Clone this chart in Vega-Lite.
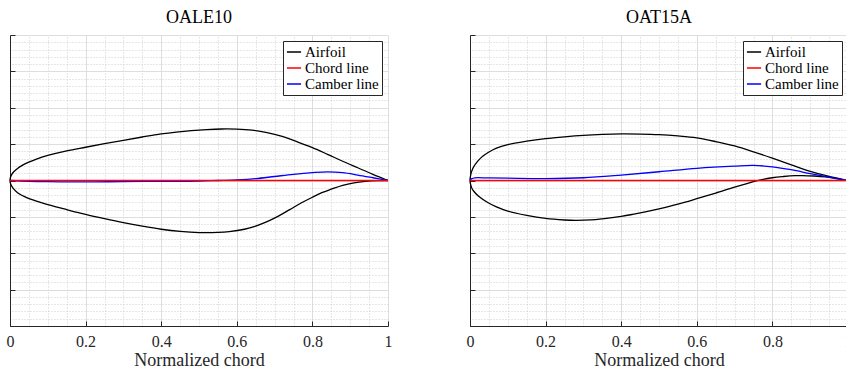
{
  "$schema": "https://vega.github.io/schema/vega-lite/v6.json",
  "autosize": {"type": "pad"},
  "padding": {"left": 6, "top": 8, "right": 0, "bottom": 0},
  "background": "white",
  "config": {
    "view": {"stroke": null},
    "font": "Liberation Serif, DejaVu Serif, serif",
    "title": {"font": "Liberation Serif, DejaVu Serif, serif", "fontSize": 18, "fontWeight": "normal", "color": "#000000", "offset": 8},
    "legend": {"labelFont": "Liberation Serif, DejaVu Serif, serif", "labelFontSize": 15, "labelColor": "#000000"}
  },
  "datasets": {
    "oale10": [
      {"s": "Airfoil", "i": 0, "x": 1.0, "y": 0},
      {"s": "Airfoil", "i": 1, "x": 0.96, "y": 0.0085},
      {"s": "Airfoil", "i": 2, "x": 0.92, "y": 0.0175},
      {"s": "Airfoil", "i": 3, "x": 0.88, "y": 0.0265},
      {"s": "Airfoil", "i": 4, "x": 0.84, "y": 0.036},
      {"s": "Airfoil", "i": 5, "x": 0.80, "y": 0.0452},
      {"s": "Airfoil", "i": 6, "x": 0.76, "y": 0.0532},
      {"s": "Airfoil", "i": 7, "x": 0.72, "y": 0.0605},
      {"s": "Airfoil", "i": 8, "x": 0.68, "y": 0.0658},
      {"s": "Airfoil", "i": 9, "x": 0.64, "y": 0.0692},
      {"s": "Airfoil", "i": 10, "x": 0.60, "y": 0.0706},
      {"s": "Airfoil", "i": 11, "x": 0.56, "y": 0.0708},
      {"s": "Airfoil", "i": 12, "x": 0.52, "y": 0.0700},
      {"s": "Airfoil", "i": 13, "x": 0.48, "y": 0.0686},
      {"s": "Airfoil", "i": 14, "x": 0.44, "y": 0.0666},
      {"s": "Airfoil", "i": 15, "x": 0.40, "y": 0.0640},
      {"s": "Airfoil", "i": 16, "x": 0.35, "y": 0.0598},
      {"s": "Airfoil", "i": 17, "x": 0.30, "y": 0.0553},
      {"s": "Airfoil", "i": 18, "x": 0.25, "y": 0.0506},
      {"s": "Airfoil", "i": 19, "x": 0.20, "y": 0.0457},
      {"s": "Airfoil", "i": 20, "x": 0.15, "y": 0.0407},
      {"s": "Airfoil", "i": 21, "x": 0.10, "y": 0.0344},
      {"s": "Airfoil", "i": 22, "x": 0.07, "y": 0.0295},
      {"s": "Airfoil", "i": 23, "x": 0.048, "y": 0.0249},
      {"s": "Airfoil", "i": 24, "x": 0.03, "y": 0.0201},
      {"s": "Airfoil", "i": 25, "x": 0.02, "y": 0.0166},
      {"s": "Airfoil", "i": 26, "x": 0.01, "y": 0.0120},
      {"s": "Airfoil", "i": 27, "x": 0.004, "y": 0.0077},
      {"s": "Airfoil", "i": 28, "x": 0.001, "y": 0.0038},
      {"s": "Airfoil", "i": 29, "x": 0, "y": 0},
      {"s": "Airfoil", "i": 30, "x": 0.001, "y": -0.0037},
      {"s": "Airfoil", "i": 31, "x": 0.004, "y": -0.0072},
      {"s": "Airfoil", "i": 32, "x": 0.009, "y": -0.0112},
      {"s": "Airfoil", "i": 33, "x": 0.02, "y": -0.0168},
      {"s": "Airfoil", "i": 34, "x": 0.04, "y": -0.0226},
      {"s": "Airfoil", "i": 35, "x": 0.07, "y": -0.0285},
      {"s": "Airfoil", "i": 36, "x": 0.10, "y": -0.0331},
      {"s": "Airfoil", "i": 37, "x": 0.15, "y": -0.0400},
      {"s": "Airfoil", "i": 38, "x": 0.20, "y": -0.0466},
      {"s": "Airfoil", "i": 39, "x": 0.25, "y": -0.0525},
      {"s": "Airfoil", "i": 40, "x": 0.30, "y": -0.0580},
      {"s": "Airfoil", "i": 41, "x": 0.35, "y": -0.0628},
      {"s": "Airfoil", "i": 42, "x": 0.40, "y": -0.0670},
      {"s": "Airfoil", "i": 43, "x": 0.45, "y": -0.0700},
      {"s": "Airfoil", "i": 44, "x": 0.50, "y": -0.0716},
      {"s": "Airfoil", "i": 45, "x": 0.55, "y": -0.0714},
      {"s": "Airfoil", "i": 46, "x": 0.58, "y": -0.0703},
      {"s": "Airfoil", "i": 47, "x": 0.62, "y": -0.0670},
      {"s": "Airfoil", "i": 48, "x": 0.65, "y": -0.0626},
      {"s": "Airfoil", "i": 49, "x": 0.68, "y": -0.0565},
      {"s": "Airfoil", "i": 50, "x": 0.71, "y": -0.0489},
      {"s": "Airfoil", "i": 51, "x": 0.74, "y": -0.0400},
      {"s": "Airfoil", "i": 52, "x": 0.77, "y": -0.0310},
      {"s": "Airfoil", "i": 53, "x": 0.80, "y": -0.0230},
      {"s": "Airfoil", "i": 54, "x": 0.825, "y": -0.0168},
      {"s": "Airfoil", "i": 55, "x": 0.85, "y": -0.0120},
      {"s": "Airfoil", "i": 56, "x": 0.88, "y": -0.0066},
      {"s": "Airfoil", "i": 57, "x": 0.91, "y": -0.0032},
      {"s": "Airfoil", "i": 58, "x": 0.94, "y": -0.0013},
      {"s": "Airfoil", "i": 59, "x": 0.97, "y": -0.0003},
      {"s": "Airfoil", "i": 60, "x": 1.0, "y": 0},
      {"s": "Camber line", "i": 0, "x": 0, "y": 0},
      {"s": "Camber line", "i": 1, "x": 0.05, "y": -0.001},
      {"s": "Camber line", "i": 2, "x": 0.1, "y": -0.0015},
      {"s": "Camber line", "i": 3, "x": 0.2, "y": -0.002},
      {"s": "Camber line", "i": 4, "x": 0.3, "y": -0.0015},
      {"s": "Camber line", "i": 5, "x": 0.4, "y": -0.0012},
      {"s": "Camber line", "i": 6, "x": 0.5, "y": -0.0008},
      {"s": "Camber line", "i": 7, "x": 0.55, "y": 0},
      {"s": "Camber line", "i": 8, "x": 0.6, "y": 0.0008},
      {"s": "Camber line", "i": 9, "x": 0.65, "y": 0.0025},
      {"s": "Camber line", "i": 10, "x": 0.7, "y": 0.0055},
      {"s": "Camber line", "i": 11, "x": 0.75, "y": 0.0085},
      {"s": "Camber line", "i": 12, "x": 0.8, "y": 0.0108},
      {"s": "Camber line", "i": 13, "x": 0.84, "y": 0.0119},
      {"s": "Camber line", "i": 14, "x": 0.88, "y": 0.0108},
      {"s": "Camber line", "i": 15, "x": 0.92, "y": 0.0075},
      {"s": "Camber line", "i": 16, "x": 0.96, "y": 0.0038},
      {"s": "Camber line", "i": 17, "x": 1.0, "y": 0},
      {"s": "Chord line", "i": 0, "x": 0, "y": 0},
      {"s": "Chord line", "i": 1, "x": 1, "y": 0}
    ],
    "oat15a": [
      {"s": "Airfoil", "i": 0, "x": 1.0, "y": 0},
      {"s": "Airfoil", "i": 1, "x": 0.95, "y": 0.0057},
      {"s": "Airfoil", "i": 2, "x": 0.90, "y": 0.0125},
      {"s": "Airfoil", "i": 3, "x": 0.85, "y": 0.0215},
      {"s": "Airfoil", "i": 4, "x": 0.80, "y": 0.0307},
      {"s": "Airfoil", "i": 5, "x": 0.75, "y": 0.0395},
      {"s": "Airfoil", "i": 6, "x": 0.70, "y": 0.0475},
      {"s": "Airfoil", "i": 7, "x": 0.65, "y": 0.0535},
      {"s": "Airfoil", "i": 8, "x": 0.60, "y": 0.0585},
      {"s": "Airfoil", "i": 9, "x": 0.55, "y": 0.0612},
      {"s": "Airfoil", "i": 10, "x": 0.50, "y": 0.0630},
      {"s": "Airfoil", "i": 11, "x": 0.45, "y": 0.0638},
      {"s": "Airfoil", "i": 12, "x": 0.40, "y": 0.0640},
      {"s": "Airfoil", "i": 13, "x": 0.35, "y": 0.0633},
      {"s": "Airfoil", "i": 14, "x": 0.30, "y": 0.0620},
      {"s": "Airfoil", "i": 15, "x": 0.25, "y": 0.0600},
      {"s": "Airfoil", "i": 16, "x": 0.20, "y": 0.0575},
      {"s": "Airfoil", "i": 17, "x": 0.15, "y": 0.0540},
      {"s": "Airfoil", "i": 18, "x": 0.10, "y": 0.0493},
      {"s": "Airfoil", "i": 19, "x": 0.07, "y": 0.0445},
      {"s": "Airfoil", "i": 20, "x": 0.048, "y": 0.0385},
      {"s": "Airfoil", "i": 21, "x": 0.03, "y": 0.0318},
      {"s": "Airfoil", "i": 22, "x": 0.02, "y": 0.0262},
      {"s": "Airfoil", "i": 23, "x": 0.01, "y": 0.0190},
      {"s": "Airfoil", "i": 24, "x": 0.005, "y": 0.0135},
      {"s": "Airfoil", "i": 25, "x": 0.002, "y": 0.0082},
      {"s": "Airfoil", "i": 26, "x": 0, "y": 0},
      {"s": "Airfoil", "i": 27, "x": 0.001, "y": -0.0040},
      {"s": "Airfoil", "i": 28, "x": 0.004, "y": -0.0095},
      {"s": "Airfoil", "i": 29, "x": 0.01, "y": -0.0148},
      {"s": "Airfoil", "i": 30, "x": 0.022, "y": -0.0213},
      {"s": "Airfoil", "i": 31, "x": 0.048, "y": -0.0305},
      {"s": "Airfoil", "i": 32, "x": 0.07, "y": -0.0362},
      {"s": "Airfoil", "i": 33, "x": 0.10, "y": -0.0420},
      {"s": "Airfoil", "i": 34, "x": 0.15, "y": -0.0480},
      {"s": "Airfoil", "i": 35, "x": 0.20, "y": -0.0522},
      {"s": "Airfoil", "i": 36, "x": 0.25, "y": -0.0543},
      {"s": "Airfoil", "i": 37, "x": 0.28, "y": -0.0548},
      {"s": "Airfoil", "i": 38, "x": 0.32, "y": -0.0542},
      {"s": "Airfoil", "i": 39, "x": 0.35, "y": -0.0527},
      {"s": "Airfoil", "i": 40, "x": 0.40, "y": -0.0493},
      {"s": "Airfoil", "i": 41, "x": 0.43, "y": -0.0466},
      {"s": "Airfoil", "i": 42, "x": 0.47, "y": -0.0425},
      {"s": "Airfoil", "i": 43, "x": 0.50, "y": -0.0390},
      {"s": "Airfoil", "i": 44, "x": 0.55, "y": -0.0325},
      {"s": "Airfoil", "i": 45, "x": 0.60, "y": -0.0250},
      {"s": "Airfoil", "i": 46, "x": 0.65, "y": -0.0172},
      {"s": "Airfoil", "i": 47, "x": 0.70, "y": -0.0090},
      {"s": "Airfoil", "i": 48, "x": 0.73, "y": -0.0045},
      {"s": "Airfoil", "i": 49, "x": 0.76, "y": -0.0003},
      {"s": "Airfoil", "i": 50, "x": 0.80, "y": 0.0038},
      {"s": "Airfoil", "i": 51, "x": 0.83, "y": 0.0055},
      {"s": "Airfoil", "i": 52, "x": 0.86, "y": 0.0066},
      {"s": "Airfoil", "i": 53, "x": 0.88, "y": 0.0068},
      {"s": "Airfoil", "i": 54, "x": 0.91, "y": 0.0062},
      {"s": "Airfoil", "i": 55, "x": 0.94, "y": 0.0050},
      {"s": "Airfoil", "i": 56, "x": 0.97, "y": 0.0027},
      {"s": "Airfoil", "i": 57, "x": 1.0, "y": 0},
      {"s": "Camber line", "i": 0, "x": 0, "y": 0},
      {"s": "Camber line", "i": 1, "x": 0.005, "y": 0.0025},
      {"s": "Camber line", "i": 2, "x": 0.013, "y": 0.0037},
      {"s": "Camber line", "i": 3, "x": 0.05, "y": 0.0035},
      {"s": "Camber line", "i": 4, "x": 0.1, "y": 0.0032},
      {"s": "Camber line", "i": 5, "x": 0.2, "y": 0.0027},
      {"s": "Camber line", "i": 6, "x": 0.3, "y": 0.0038},
      {"s": "Camber line", "i": 7, "x": 0.4, "y": 0.0075},
      {"s": "Camber line", "i": 8, "x": 0.5, "y": 0.012},
      {"s": "Camber line", "i": 9, "x": 0.6, "y": 0.0168},
      {"s": "Camber line", "i": 10, "x": 0.7, "y": 0.0198},
      {"s": "Camber line", "i": 11, "x": 0.75, "y": 0.0207},
      {"s": "Camber line", "i": 12, "x": 0.8, "y": 0.0188},
      {"s": "Camber line", "i": 13, "x": 0.85, "y": 0.0148},
      {"s": "Camber line", "i": 14, "x": 0.9, "y": 0.0095},
      {"s": "Camber line", "i": 15, "x": 0.95, "y": 0.0045},
      {"s": "Camber line", "i": 16, "x": 1.0, "y": 0},
      {"s": "Chord line", "i": 0, "x": 0, "y": 0},
      {"s": "Chord line", "i": 1, "x": 1, "y": 0}
    ]
  },
  "spacing": 82,
  "bounds": "flush",
  "resolve": {"scale": {"color": "independent"}, "legend": {"color": "independent"}},
  "hconcat": [
    {
      "title": "OALE10",
      "width": 378,
      "height": 291,
      "data": {"name": "oale10"},
      "resolve": {"axis": {"x": "independent", "y": "independent"}},
      "layer": [
        {
          "mark": {"type": "point", "opacity": 0},
          "encoding": {
            "x": {"field": "x", "type": "quantitative", "scale": {"domain": [0, 1], "nice": false, "zero": false},
              "axis": {"orient": "top", "values": [0.05, 0.1, 0.15, 0.25, 0.3, 0.35, 0.45, 0.5, 0.55, 0.65, 0.7, 0.75, 0.85, 0.9, 0.95], "labels": false, "ticks": false, "domain": false, "title": null, "grid": true, "gridColor": "#cfcfcf", "gridDash": [1, 2], "gridWidth": 1}},
            "y": {"field": "y", "type": "quantitative", "scale": {"domain": [-0.2, 0.2], "nice": false, "zero": false},
              "axis": {"orient": "right", "values": [-0.19, -0.18, -0.17, -0.16, -0.14, -0.13, -0.12, -0.11, -0.09, -0.08, -0.07, -0.06, -0.04, -0.03, -0.02, -0.01, 0.01, 0.02, 0.03, 0.04, 0.06, 0.07, 0.08, 0.09, 0.11, 0.12, 0.13, 0.14, 0.16, 0.17, 0.18, 0.19], "labels": false, "ticks": false, "domain": false, "title": null, "grid": true, "gridColor": "#cfcfcf", "gridDash": [1, 2], "gridWidth": 1}}
          }
        },
        {
          "mark": {"type": "line", "strokeWidth": 1.3, "interpolate": "catmull-rom"},
          "encoding": {
            "x": {"field": "x", "type": "quantitative", "scale": {"domain": [0, 1], "nice": false, "zero": false},
              "axis": {"orient": "bottom", "values": [0, 0.2, 0.4, 0.6, 0.8, 1], "format": ".1~f", "labelFlush": false, "grid": true, "gridColor": "#dedede", "gridWidth": 1, "domainColor": "#262626", "tickColor": "#262626", "tickSize": -5, "labelPadding": 12, "labelFont": "Liberation Serif, DejaVu Serif, serif", "labelFontSize": 16, "labelColor": "#262626", "title": "Normalized chord", "titleFont": "Liberation Serif, DejaVu Serif, serif", "titleFontSize": 18, "titleFontWeight": "normal", "titleColor": "#262626", "titlePadding": 2}},
            "y": {"field": "y", "type": "quantitative", "scale": {"domain": [-0.2, 0.2], "nice": false, "zero": false},
              "axis": {"orient": "left", "values": [-0.2, -0.15, -0.1, -0.05, 0, 0.05, 0.1, 0.15, 0.2], "labels": false, "title": null, "grid": true, "gridColor": "#dedede", "gridWidth": 1, "domainColor": "#262626", "tickColor": "#262626", "tickSize": -5}},
            "color": {"field": "s", "type": "nominal",
              "scale": {"domain": ["Airfoil", "Chord line", "Camber line"], "range": ["#000000", "#ff0000", "#0000ff"]},
              "legend": {"title": null, "orient": "top-right", "offset": 6, "strokeColor": "#262626", "fillColor": "white", "padding": 3, "rowPadding": 0, "symbolType": "stroke", "symbolSize": 200, "symbolStrokeWidth": 1.5, "labelOffset": 3, "labelFont": "Liberation Serif, DejaVu Serif, serif", "labelFontSize": 15, "labelColor": "#000000", "cornerRadius": 0}},
            "order": {"field": "i", "type": "quantitative"}
          }
        }
      ]
    },
    {
      "title": "OAT15A",
      "width": 378,
      "height": 291,
      "data": {"name": "oat15a"},
      "resolve": {"axis": {"x": "independent", "y": "independent"}},
      "layer": [
        {
          "mark": {"type": "point", "opacity": 0},
          "encoding": {
            "x": {"field": "x", "type": "quantitative", "scale": {"domain": [0, 1], "nice": false, "zero": false},
              "axis": {"orient": "top", "values": [0.05, 0.1, 0.15, 0.25, 0.3, 0.35, 0.45, 0.5, 0.55, 0.65, 0.7, 0.75, 0.85, 0.9, 0.95], "labels": false, "ticks": false, "domain": false, "title": null, "grid": true, "gridColor": "#cfcfcf", "gridDash": [1, 2], "gridWidth": 1}},
            "y": {"field": "y", "type": "quantitative", "scale": {"domain": [-0.2, 0.2], "nice": false, "zero": false},
              "axis": {"orient": "right", "values": [-0.19, -0.18, -0.17, -0.16, -0.14, -0.13, -0.12, -0.11, -0.09, -0.08, -0.07, -0.06, -0.04, -0.03, -0.02, -0.01, 0.01, 0.02, 0.03, 0.04, 0.06, 0.07, 0.08, 0.09, 0.11, 0.12, 0.13, 0.14, 0.16, 0.17, 0.18, 0.19], "labels": false, "ticks": false, "domain": false, "title": null, "grid": true, "gridColor": "#cfcfcf", "gridDash": [1, 2], "gridWidth": 1}}
          }
        },
        {
          "mark": {"type": "line", "strokeWidth": 1.3, "interpolate": "catmull-rom"},
          "encoding": {
            "x": {"field": "x", "type": "quantitative", "scale": {"domain": [0, 1], "nice": false, "zero": false},
              "axis": {"orient": "bottom", "values": [0, 0.2, 0.4, 0.6, 0.8, 1], "format": ".1~f", "labelFlush": false, "grid": true, "gridColor": "#dedede", "gridWidth": 1, "domainColor": "#262626", "tickColor": "#262626", "tickSize": -5, "labelPadding": 12, "labelFont": "Liberation Serif, DejaVu Serif, serif", "labelFontSize": 16, "labelColor": "#262626", "title": "Normalized chord", "titleFont": "Liberation Serif, DejaVu Serif, serif", "titleFontSize": 18, "titleFontWeight": "normal", "titleColor": "#262626", "titlePadding": 2}},
            "y": {"field": "y", "type": "quantitative", "scale": {"domain": [-0.2, 0.2], "nice": false, "zero": false},
              "axis": {"orient": "left", "values": [-0.2, -0.15, -0.1, -0.05, 0, 0.05, 0.1, 0.15, 0.2], "labels": false, "title": null, "grid": true, "gridColor": "#dedede", "gridWidth": 1, "domainColor": "#262626", "tickColor": "#262626", "tickSize": -5}},
            "color": {"field": "s", "type": "nominal",
              "scale": {"domain": ["Airfoil", "Chord line", "Camber line"], "range": ["#000000", "#ff0000", "#0000ff"]},
              "legend": {"title": null, "orient": "top-right", "offset": 6, "strokeColor": "#262626", "fillColor": "white", "padding": 3, "rowPadding": 0, "symbolType": "stroke", "symbolSize": 200, "symbolStrokeWidth": 1.5, "labelOffset": 3, "labelFont": "Liberation Serif, DejaVu Serif, serif", "labelFontSize": 15, "labelColor": "#000000", "cornerRadius": 0}},
            "order": {"field": "i", "type": "quantitative"}
          }
        }
      ]
    }
  ]
}
